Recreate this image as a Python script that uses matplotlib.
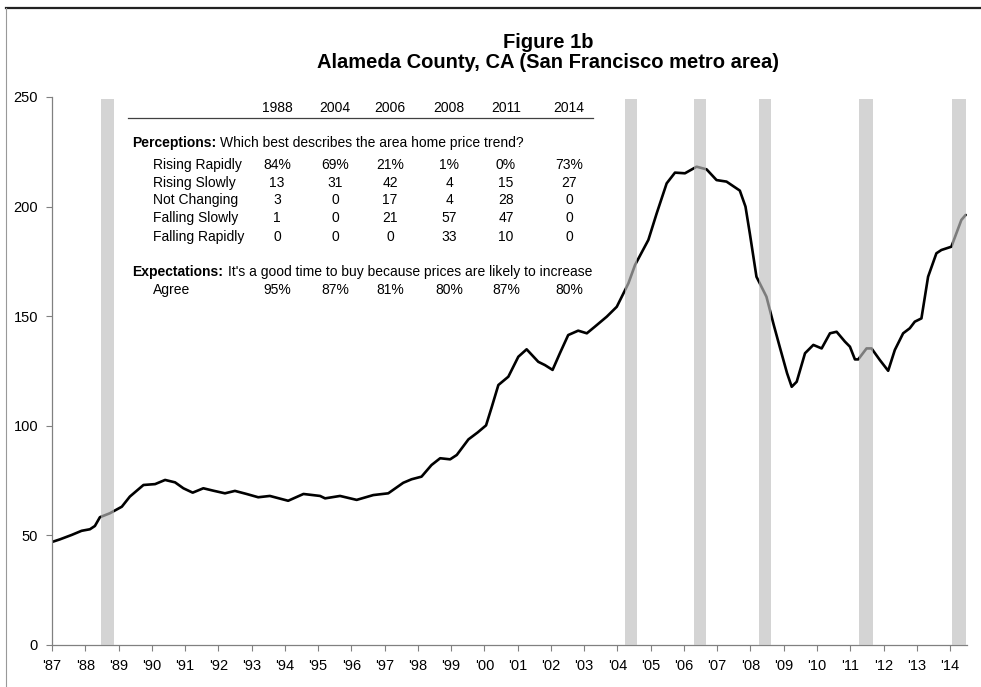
import matplotlib.pyplot as plt
from matplotlib.lines import Line2D

plt.rcParams['font.family'] = ['Liberation Sans', 'DejaVu Sans']

# Home price index, Alameda County
years = [1987.02, 1987.24, 1987.59, 1987.89, 1988.14, 1988.29, 1988.44, 1988.74,
         1989.10, 1989.34, 1989.75, 1990.10, 1990.40, 1990.70, 1990.95, 1991.23,
         1991.55, 1991.85, 1992.20, 1992.50, 1992.85, 1993.20, 1993.55, 1994.10,
         1994.56, 1995.06, 1995.21, 1995.66, 1996.16, 1996.66, 1997.11, 1997.56,
         1997.81, 1998.11, 1998.41, 1998.67, 1998.97, 1999.17, 1999.52, 1999.80,
         2000.05, 2000.22, 2000.42, 2000.72, 2001.02, 2001.27, 2001.62, 2001.82,
         2002.05, 2002.27, 2002.52, 2002.82, 2003.08, 2003.32, 2003.68, 2003.98,
         2004.18, 2004.33, 2004.53, 2004.93, 2005.18, 2005.48, 2005.73, 2006.03,
         2006.38, 2006.68, 2006.98, 2007.28, 2007.68, 2007.85, 2007.98, 2008.18,
         2008.48, 2008.70, 2008.88, 2009.10, 2009.24, 2009.39, 2009.64, 2009.89,
         2010.14, 2010.39, 2010.59, 2010.84, 2010.99, 2011.14, 2011.24, 2011.49,
         2011.64, 2011.89, 2012.14, 2012.34, 2012.59, 2012.79, 2012.94, 2013.14,
         2013.34, 2013.59, 2013.74, 2014.04, 2014.34, 2014.47]
index = [47.1, 48.2, 50.2, 52.1, 52.8, 54.3, 58.3, 60.1,
         63.1, 67.7, 73.0, 73.4, 75.3, 74.2, 71.5, 69.5,
         71.5, 70.4, 69.2, 70.3, 68.9, 67.4, 68.0, 65.8,
         68.9, 68.0, 66.9, 68.0, 66.2, 68.4, 69.2, 74.0,
         75.6, 76.8, 82.1, 85.2, 84.7, 86.7, 93.8, 97.0,
         100.2, 108.5, 118.6, 122.4, 131.5, 134.9, 129.2, 127.7,
         125.5, 133.1, 141.4, 143.4, 142.2, 145.2, 149.8, 154.3,
         160.4, 165.0, 173.4, 184.8, 196.9, 210.6, 215.5, 215.2,
         218.2, 217.0, 212.1, 211.4, 207.3, 200.0, 187.8, 168.0,
         158.9, 146.0, 136.0, 124.0, 117.8, 120.1, 133.1, 136.9,
         135.3, 142.2, 142.9, 138.4, 136.1, 130.3, 130.3, 135.3,
         135.3, 130.0, 125.1, 134.6, 142.2, 144.5, 147.5, 149.0,
         168.0, 178.7, 180.2, 181.7, 193.9, 196.2]

# Survey periods (shaded bars)
survey_start = [1988.47, 2004.23, 2006.30, 2008.26, 2011.26, 2014.06]
survey_end = [1988.86, 2004.59, 2006.66, 2008.62, 2011.68, 2014.48]

# Survey table
survey_years = ['1988', '2004', '2006', '2008', '2011', '2014']
row_labels = ['Rising Rapidly', 'Rising Slowly', 'Not Changing', 'Falling Slowly', 'Falling Rapidly']
rising_rapidly = ['84%', '69%', '21%', '1%', '0%', '73%']
rising_slowly = ['13', '31', '42', '4', '15', '27']
not_changing = ['3', '0', '17', '4', '28', '0']
falling_slowly = ['1', '0', '21', '57', '47', '0']
falling_rapidly = ['0', '0', '0', '33', '10', '0']
agree = ['95%', '87%', '81%', '80%', '87%', '80%']

W, H = 981, 687
fig = plt.figure(figsize=(W / 100, H / 100), dpi=100)
ax = fig.add_axes([52 / W, 1 - 645 / H, (967 - 52) / W, (645 - 97) / H])

ax.plot(years, index, color='black', lw=1.9, zorder=2, solid_capstyle='round', solid_joinstyle='round')
for s, e in zip(survey_start, survey_end):
    ax.bar(s, 249, width=e - s, bottom=0, align='edge', color='#bebebe', alpha=0.66,
           linewidth=0, zorder=3)

ax.set_xlim(1987, 2014.51)
ax.set_ylim(0, 250)
ax.set_yticks([0, 50, 100, 150, 200, 250])
ax.set_xticks(range(1987, 2015))
ax.set_xticklabels(["'%02d" % (y % 100) for y in range(1987, 2015)])
ax.tick_params(axis='both', labelsize=10.5, length=4, width=0.8, color='#808080')
ax.tick_params(axis='x', pad=6)
ax.tick_params(axis='y', pad=6)
for side in ['top', 'right']:
    ax.spines[side].set_visible(False)
for side in ['left', 'bottom']:
    ax.spines[side].set_color('#808080')
    ax.spines[side].set_linewidth(0.9)

# Titles
fig.text(548 / W, 1 - 42 / H, 'Figure 1b', ha='center', va='center', fontsize=14.5, fontweight='bold')
fig.text(548 / W, 1 - 63 / H, 'Alameda County, CA (San Francisco metro area)', ha='center',
         va='center', fontsize=14.5, fontweight='bold')

# Frame around the figure
fig.add_artist(Line2D([6 / W, 1], [1 - 8 / H, 1 - 8 / H], color='#222222', lw=1.6))
fig.add_artist(Line2D([6 / W, 6 / W], [1 - 8 / H, 0], color='#999999', lw=0.8))

# Table of survey results
def px(x, y):
    return x / W, 1 - y / H

col_x = [277, 335, 390, 449, 506, 569]
fs = 10
for cx, yr in zip(col_x, survey_years):
    fig.text(*px(cx, 108), yr, ha='center', va='center', fontsize=fs)
fig.add_artist(Line2D([128 / W, 593 / W], [1 - 118 / H, 1 - 118 / H], color='#404040', lw=0.9))

fig.text(*px(132, 143), 'Perceptions:', ha='left', va='center', fontsize=fs, fontweight='bold')
fig.text(*px(220, 143), 'Which best describes the area home price trend?', ha='left', va='center', fontsize=fs)

rows = [rising_rapidly, rising_slowly, not_changing, falling_slowly, falling_rapidly]
row_y = [165, 183, 200, 218, 237]
for lab, vals, ry in zip(row_labels, rows, row_y):
    fig.text(*px(153, ry), lab, ha='left', va='center', fontsize=fs)
    for cx, v in zip(col_x, vals):
        fig.text(*px(cx, ry), v, ha='center', va='center', fontsize=fs)

fig.text(*px(132, 272), 'Expectations:', ha='left', va='center', fontsize=fs, fontweight='bold')
fig.text(*px(228, 272), "It's a good time to buy because prices are likely to increase", ha='left',
         va='center', fontsize=fs)
fig.text(*px(153, 290), 'Agree', ha='left', va='center', fontsize=fs)
for cx, v in zip(col_x, agree):
    fig.text(*px(cx, 290), v, ha='center', va='center', fontsize=fs)

fig.savefig('out.png', dpi=100)
